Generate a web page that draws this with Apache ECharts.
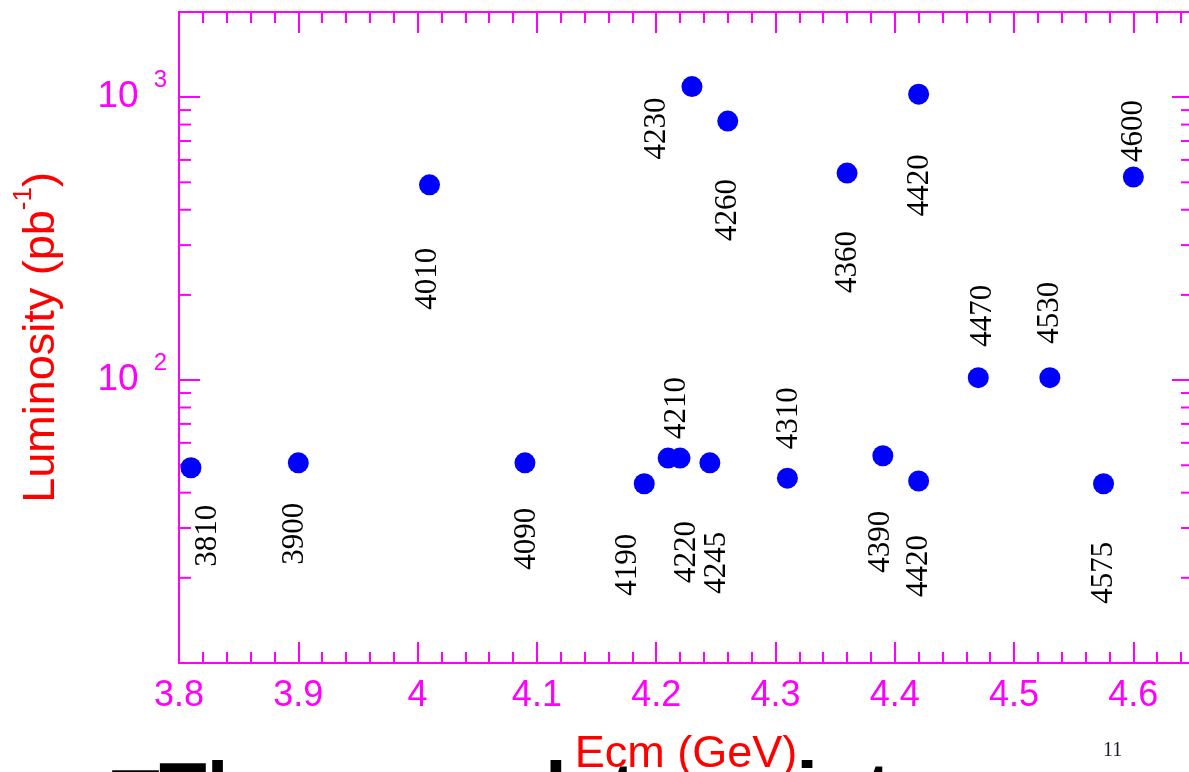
<!DOCTYPE html>
<html>
<head>
<meta charset="utf-8">
<script src="https://cdn.jsdelivr.net/npm/echarts@6/dist/echarts.min.js"></script>
<style>
  html, body { margin: 0; padding: 0; background: #ffffff; overflow: hidden; }
  #chart { width: 1189px; height: 772px; }
</style>
</head>
<body>
<div id="chart"></div>
<script>
// Centre-of-mass energies of the scan points (MeV)
const energies = [3810, 3900, 4010, 4090, 4190, 4210, 4220, 4230, 4245, 4260,
                  4310, 4360, 4390, 4420, 4420, 4470, 4530, 4575, 4600];
// Integrated luminosity collected at each point (pb^-1)
const luminosity = [49, 51, 490, 51, 43, 53, 53, 1090, 51, 823,
                    45, 539, 54, 1025, 44, 102, 102, 43, 522];
// Axis tick labels
const xTickLabels = ['3.8', '3.9', '4', '4.1', '4.2', '4.3', '4.4', '4.5', '4.6'];
const yDecades = [100, 1000];
const yDecadeExponents = ['2', '3'];
// Logarithmic minor ticks (2..9 of each decade)
const yMinorTicks = [20, 30, 40, 50, 60, 70, 80, 90, 200, 300, 400, 500, 600, 700, 800, 900];

// Screen placement of each energy tag relative to its point (px, right / down)
const labelShift = [[17, 68], [-3, 71], [-2, 94], [2, 76], [-16, 81], [9, -50], [7, 94],
                    [-35, 42], [7, 100], [0, 89], [1, -60], [1, 89], [-2, 86], [1, 91],
                    [0, 85], [5, -62], [0, -65], [0, 89], [1, -46]];

const MAGENTA = '#ff00ff';
const X_MIN = 3.8, X_MAX = 4.65;
const Y_MIN = 10, Y_MAX = 2000;

const chart = echarts.init(document.getElementById('chart'), null, { renderer: 'canvas' });

function xLabel(v) {
  const i = Math.round((v - 3.8) * 10);
  return Math.abs(v - (3.8 + i * 0.1)) < 1e-6 && i >= 0 && i < xTickLabels.length ? xTickLabels[i] : '';
}
function yLabel(v) {
  const i = yDecades.findIndex(d => Math.abs(d - v) / d < 1e-6);
  return i < 0 ? '' : '{b|10}{s|' + yDecadeExponents[i] + '}';
}

const xAxisCommon = {
  type: 'value', min: X_MIN, max: X_MAX, interval: 0.1,
  axisLine: { show: true, onZero: false, lineStyle: { color: MAGENTA, width: 2 } },
  axisTick: { show: true, inside: true, length: 21, lineStyle: { color: MAGENTA, width: 2 } },
  minorTick: { show: true, splitNumber: 5, length: 11, lineStyle: { color: MAGENTA, width: 2 } },
  splitLine: { show: false }
};
const yAxisCommon = {
  type: 'log', logBase: 10, min: Y_MIN, max: Y_MAX,
  axisLine: { show: true, onZero: false, lineStyle: { color: MAGENTA, width: 2 } },
  axisTick: { show: true, inside: true, length: 21, lineStyle: { color: MAGENTA, width: 2 } },
  minorTick: { show: false },
  splitLine: { show: false }
};

const option = {
  backgroundColor: '#ffffff',
  animation: false,
  grid: { left: 179, top: 12, right: -4, bottom: 109, containLabel: false, outerBoundsMode: 'none' },
  xAxis: [
    Object.assign({}, xAxisCommon, {
      position: 'bottom',
      name: 'Ecm (GeV)',
      nameLocation: 'middle',
      nameGap: 69,
      nameTextStyle: { color: '#ff0000', fontSize: 45, fontFamily: 'Liberation Sans' },
      axisLabel: {
        show: true, margin: 15, color: MAGENTA, fontSize: 36,
        fontFamily: 'Liberation Sans', formatter: xLabel,
        showMinLabel: true, showMaxLabel: false
      }
    }),
    Object.assign({}, xAxisCommon, { position: 'top', axisLabel: { show: false } })
  ],
  yAxis: [
    Object.assign({}, yAxisCommon, {
      position: 'left',
      name: '{a|Luminosity (pb}{s|-1}{a|)}',
      nameLocation: 'middle',
      nameGap: 107,
      nameTextStyle: {
        color: '#ff0000', fontFamily: 'Liberation Sans',
        rich: {
          a: { color: '#ff0000', fontSize: 45, lineHeight: 61, fontFamily: 'Liberation Sans' },
          s: { color: '#ff0000', fontSize: 26, lineHeight: 26, verticalAlign: 'top', fontFamily: 'Liberation Sans' }
        }
      },
      axisLabel: {
        show: true, margin: 12, formatter: yLabel,
        showMinLabel: false, showMaxLabel: false,
        rich: {
          b: { color: MAGENTA, fontSize: 37, lineHeight: 57, fontFamily: 'Liberation Sans' },
          s: { color: MAGENTA, fontSize: 24, lineHeight: 24, verticalAlign: 'top',
               padding: [0, 0, 0, 15], fontFamily: 'Liberation Sans' }
        }
      }
    }),
    Object.assign({}, yAxisCommon, { position: 'right', axisLabel: { show: false } })
  ],
  series: [
    {
      // minor logarithmic ticks on the left and right frame
      type: 'custom',
      xAxisIndex: 0, yAxisIndex: 0,
      silent: true, clip: false, z: 5,
      data: yMinorTicks.map(v => [X_MIN, v]),
      renderItem: function (params, api) {
        const v = api.value(1);
        const l = api.coord([X_MIN, v]);
        const r = api.coord([X_MAX, v]);
        const st = { stroke: MAGENTA, lineWidth: 2 };
        return {
          type: 'group',
          children: [
            { type: 'line', shape: { x1: l[0], y1: l[1], x2: l[0] + 12, y2: l[1] }, style: st },
            { type: 'line', shape: { x1: r[0], y1: r[1], x2: r[0] - 12, y2: r[1] }, style: st }
          ]
        };
      }
    },
    {
      type: 'scatter',
      xAxisIndex: 0, yAxisIndex: 0,
      symbol: 'circle', symbolSize: 21,
      itemStyle: { color: '#0000ff', opacity: 1 },
      z: 10,
      data: energies.map((e, i) => ({
        value: [e / 1000, luminosity[i]],
        name: String(e),
        // the tag is turned 90°, so its own axes are (up, right) on screen
        label: { offset: [-labelShift[i][1], labelShift[i][0]] }
      })),
      label: {
        show: true, position: 'inside', rotate: 90,
        align: 'center', verticalAlign: 'middle',
        color: '#000000', fontSize: 31, fontFamily: 'Liberation Serif',
        textBorderWidth: 0,
        formatter: p => p.name
      },
      emphasis: { disabled: true }
    }
  ],
  graphic: [
    {
      type: 'text', left: 1103, top: 741, silent: true,
      style: { text: '11', fill: '#1a1a2a', font: '20px "Liberation Serif"' }
    },
    {
      type: 'text', left: 112, top: 756, silent: true, z: -1,
      style: { text: '□The scan data points cover a wide energy range', fill: '#000000',
               font: 'bold 78px "Liberation Sans"' }
    }
  ]
};

chart.setOption(option);
</script>
</body>
</html>
